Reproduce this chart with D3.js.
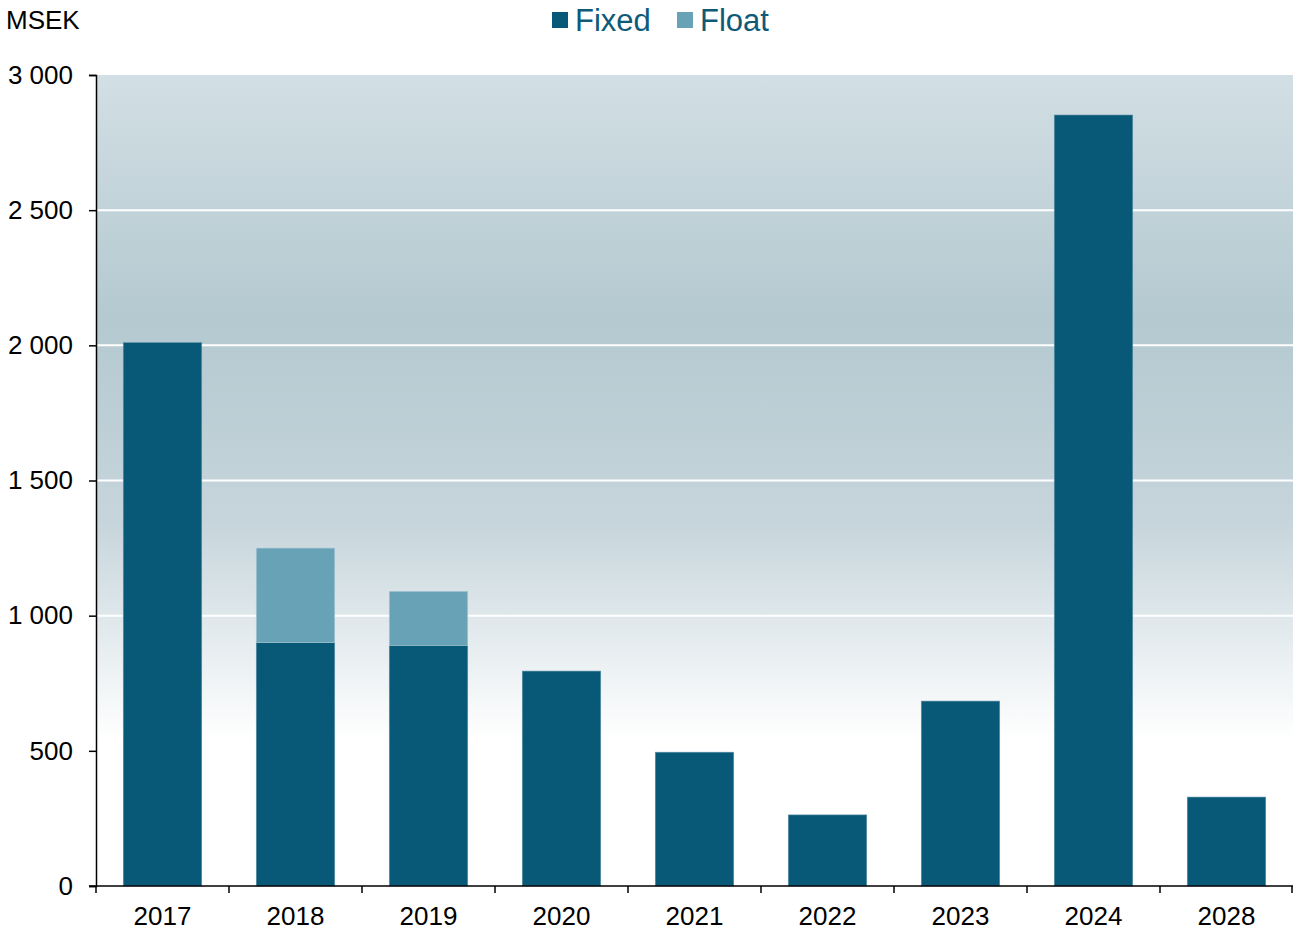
<!DOCTYPE html>
<html>
<head>
<meta charset="utf-8">
<script src="https://cdn.jsdelivr.net/npm/d3@7"></script>
<style>
  body { margin: 0; background: #fff; }
  svg { display: block; font-family: "Liberation Sans", Arial, sans-serif; }
</style>
</head>
<body>
<div id="chart"></div>
<script>
const years = ['2017', '2018', '2019', '2020', '2021', '2022', '2023', '2024', '2028'];
const fixed = [2010, 900, 890, 795, 495, 263, 684, 2852, 329];
const float = [0, 350, 200, 0, 0, 0, 0, 0, 0];
const yTicks = [0, 500, 1000, 1500, 2000, 2500, 3000];

const width = 1293, height = 932;
const margin = { left: 96, right: 0, top: 75, bottom: 46 };

const svg = d3.select('#chart').append('svg')
  .attr('width', width)
  .attr('height', height);

// background gradient of the plot area
const grad = svg.append('defs').append('linearGradient')
  .attr('id', 'bg').attr('x1', 0).attr('y1', 0).attr('x2', 0).attr('y2', 1);
grad.append('stop').attr('offset', '0%').attr('stop-color', '#d2dfe4');
grad.append('stop').attr('offset', '30%').attr('stop-color', '#b4c9d0');
grad.append('stop').attr('offset', '55%').attr('stop-color', '#c6d5db');
grad.append('stop').attr('offset', '82%').attr('stop-color', '#ffffff');
grad.append('stop').attr('offset', '100%').attr('stop-color', '#ffffff');

const x = d3.scaleBand()
  .domain(years)
  .range([margin.left, width - margin.right])
  .paddingInner(0.41)
  .paddingOuter(0.205);

const y = d3.scaleLinear()
  .domain([0, 3000])
  .range([height - margin.bottom, margin.top]);

svg.append('rect')
  .attr('x', margin.left)
  .attr('y', y(3000))
  .attr('width', width - margin.right - margin.left)
  .attr('height', y(0) - y(3000))
  .attr('fill', 'url(#bg)');

// grid lines
svg.append('g')
  .selectAll('line')
  .data(yTicks.filter(d => d > 0 && d < 3000))
  .enter().append('line')
  .attr('x1', margin.left)
  .attr('x2', width - margin.right)
  .attr('y1', d => y(d))
  .attr('y2', d => y(d))
  .attr('stroke', '#fff')
  .attr('stroke-width', 2);

// bars
const rows = years.map((yr, i) => ({ year: yr, fixed: fixed[i], float: float[i] }));

svg.append('g').selectAll('rect')
  .data(rows)
  .enter().append('rect')
  .attr('x', d => x(d.year))
  .attr('width', x.bandwidth())
  .attr('y', d => y(d.fixed))
  .attr('height', d => y(0) - y(d.fixed))
  .attr('fill', '#085978')
  .attr('stroke', '#5f93a8')
  .attr('stroke-width', 0.6);

svg.append('g').selectAll('rect')
  .data(rows.filter(d => d.float > 0))
  .enter().append('rect')
  .attr('x', d => x(d.year))
  .attr('width', x.bandwidth())
  .attr('y', d => y(d.fixed + d.float))
  .attr('height', d => y(d.fixed) - y(d.fixed + d.float))
  .attr('fill', '#67a2b7')
  .attr('stroke', '#a9c8d4')
  .attr('stroke-width', 0.6);

// y axis
const yAxis = d3.axisLeft(y)
  .tickValues(yTicks)
  .tickSize(7)
  .tickPadding(16)
  .tickFormat(d => d3.format(',')(d).replace(/,/g, ' '));

svg.append('g')
  .attr('transform', 'translate(' + margin.left + ',0)')
  .call(yAxis)
  .call(g => g.select('.domain').attr('stroke', '#000').attr('stroke-width', 1.5))
  .call(g => g.selectAll('.tick line').attr('stroke', '#000').attr('stroke-width', 1.5))
  .call(g => g.selectAll('text').attr('font-size', 26).attr('fill', '#000')
    .attr('font-family', '"Liberation Sans", Arial, sans-serif'));

// x axis with ticks at band boundaries
const xAxisG = svg.append('g').attr('transform', 'translate(0,' + y(0) + ')');
xAxisG.append('line')
  .attr('x1', margin.left - 7).attr('x2', width - margin.right)
  .attr('stroke', '#000').attr('stroke-width', 1.5);

const step = x.step();
const edges = d3.range(years.length + 1).map(i => margin.left + i * step);
xAxisG.selectAll('line.tk')
  .data(edges)
  .enter().append('line')
  .attr('class', 'tk')
  .attr('x1', d => Math.min(d, width - 1)).attr('x2', d => Math.min(d, width - 1))
  .attr('y1', 0).attr('y2', 7)
  .attr('stroke', '#000').attr('stroke-width', 1.5);

xAxisG.selectAll('text')
  .data(years)
  .enter().append('text')
  .attr('x', d => x(d) + x.bandwidth() / 2)
  .attr('y', 39)
  .attr('text-anchor', 'middle')
  .attr('font-size', 26)
  .attr('fill', '#000')
  .text(d => d);

// unit label
svg.append('text')
  .attr('x', 6).attr('y', 29)
  .attr('font-size', 26)
  .attr('fill', '#000')
  .text('MSEK');

// legend
const legend = [
  { name: 'Fixed', color: '#085978', x: 552 },
  { name: 'Float', color: '#67a2b7', x: 677 }
];
const lg = svg.append('g').selectAll('g')
  .data(legend)
  .enter().append('g')
  .attr('transform', d => 'translate(' + d.x + ',0)');
lg.append('rect')
  .attr('x', 0).attr('y', 12)
  .attr('width', 16).attr('height', 16)
  .attr('fill', d => d.color);
lg.append('text')
  .attr('x', 23).attr('y', 31)
  .attr('font-size', 31)
  .attr('fill', '#0e5a78')
  .text(d => d.name);
</script>
</body>
</html>
